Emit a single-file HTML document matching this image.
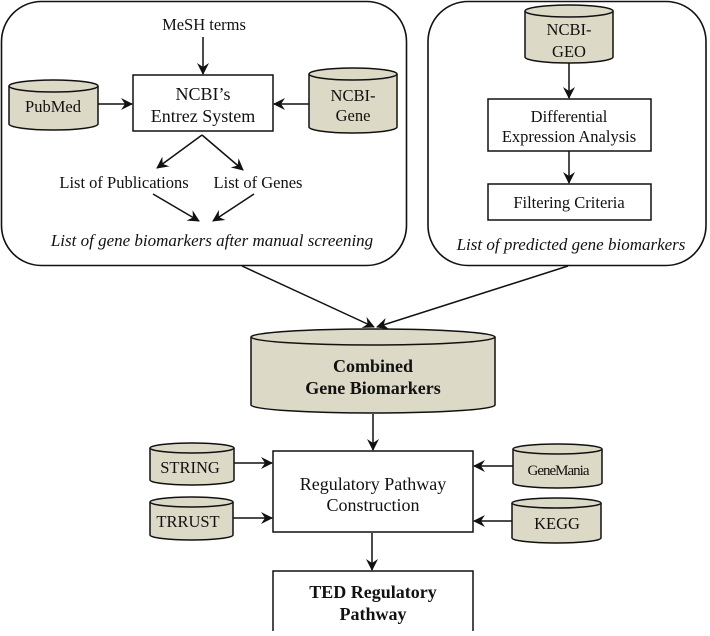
<!DOCTYPE html>
<html><head><style>
html,body{margin:0;padding:0;background:#fff}
svg text{font-family:"Liberation Serif",serif;fill:#111}
</style></head><body>
<svg width="710" height="631" viewBox="0 0 710 631" xmlns="http://www.w3.org/2000/svg">
<defs>
<marker id="a" viewBox="0 0 12 12" refX="11" refY="6" markerWidth="12" markerHeight="12" markerUnits="userSpaceOnUse" orient="auto">
<path d="M0,0 L12,6 L0,12 L4,6 Z" fill="#111"/>
</marker>
</defs>
<g stroke="#111" stroke-width="1.6" fill="none">
<rect x="1.5" y="1.5" width="405" height="264" rx="40"/>
<rect x="428" y="1.5" width="278" height="264" rx="40"/>
</g>
<g fill="#dcd9c6" stroke="#111" stroke-width="1.5">
<path d="M9,86 L9,124 A44.5,6 0 0 0 98,124 L98,86"/><ellipse cx="53.5" cy="86" rx="44.5" ry="6"/>
<path d="M309,74 L309,127 A44,6 0 0 0 397,127 L397,74"/><ellipse cx="353" cy="74" rx="44" ry="6"/>
<path d="M525,11 L525,57 A44,6 0 0 0 613,57 L613,11"/><ellipse cx="569" cy="11" rx="44" ry="6"/>
<path d="M251,337 L251,405 A122,8 0 0 0 495,405 L495,337"/><ellipse cx="373" cy="337" rx="122" ry="8"/>
<path d="M150,448 L150,480 A42,5 0 0 0 234,480 L234,448"/><ellipse cx="192" cy="448" rx="42" ry="5"/>
<path d="M150,502 L150,535 A41.5,5 0 0 0 233,535 L233,502"/><ellipse cx="191.5" cy="502" rx="41.5" ry="5"/>
<path d="M513,449 L513,483 A44.5,5 0 0 0 602,483 L602,449"/><ellipse cx="557.5" cy="449" rx="44.5" ry="5"/>
<path d="M512,503 L512,538 A44.5,5 0 0 0 601,538 L601,503"/><ellipse cx="556.5" cy="503" rx="44.5" ry="5"/>
</g>
<g fill="#fff" stroke="#111" stroke-width="1.5">
<rect x="133" y="75" width="140" height="56"/>
<rect x="488" y="99" width="163" height="52"/>
<rect x="488" y="184" width="163" height="36"/>
<rect x="273" y="451" width="200" height="81"/>
<rect x="273" y="571" width="200" height="62"/>
</g>
<g stroke="#111" stroke-width="1.5" fill="none" marker-end="url(#a)">
<line x1="203" y1="37" x2="203" y2="74"/>
<line x1="98" y1="104" x2="132" y2="104"/>
<line x1="309" y1="104" x2="274" y2="104"/>
<line x1="202" y1="135" x2="157" y2="168"/>
<line x1="202" y1="135" x2="243" y2="170"/>
<line x1="153" y1="194" x2="199" y2="221"/>
<line x1="254" y1="194" x2="213" y2="221"/>
<line x1="569" y1="63" x2="569" y2="98"/>
<line x1="569" y1="151" x2="569" y2="183"/>
<line x1="242" y1="266" x2="374" y2="327"/>
<line x1="568" y1="266" x2="377" y2="327"/>
<line x1="373" y1="414" x2="373" y2="450"/>
<line x1="234" y1="463" x2="272" y2="463"/>
<line x1="233" y1="518" x2="272" y2="518"/>
<line x1="513" y1="466" x2="474" y2="466"/>
<line x1="512" y1="521" x2="474" y2="521"/>
<line x1="372" y1="533" x2="372" y2="570"/>
</g>
<g text-anchor="middle" font-size="16.5">
<text x="204" y="30">MeSH terms</text>
<text x="53" y="112">PubMed</text>
<text x="203" y="100" font-size="18">NCBI’s</text>
<text x="203" y="122" font-size="18">Entrez System</text>
<text x="353" y="101">NCBI-</text>
<text x="353" y="121">Gene</text>
<text x="124" y="188">List of Publications</text>
<text x="258" y="188">List of Genes</text>
<text x="212" y="246" font-style="italic" font-size="17">List of gene biomarkers after manual screening</text>
<text x="569" y="35">NCBI-</text>
<text x="569" y="57">GEO</text>
<text x="569" y="122">Differential</text>
<text x="569" y="142">Expression Analysis</text>
<text x="569" y="208">Filtering Criteria</text>
<text x="571" y="250" font-style="italic" font-size="17">List of predicted gene biomarkers</text>
<text x="373" y="372" font-weight="bold" font-size="18">Combined</text>
<text x="373" y="394" font-weight="bold" font-size="18">Gene Biomarkers</text>
<text x="190" y="473">STRING</text>
<text x="188" y="527">TRRUST</text>
<text x="558" y="475" font-size="15" letter-spacing="-1">GeneMania</text>
<text x="557" y="529">KEGG</text>
<text x="373" y="490" font-size="18">Regulatory Pathway</text>
<text x="373" y="511" font-size="18">Construction</text>
<text x="373" y="598" font-weight="bold" font-size="18">TED Regulatory</text>
<text x="373" y="620" font-weight="bold" font-size="18">Pathway</text>
</g>
</svg>
</body></html>
